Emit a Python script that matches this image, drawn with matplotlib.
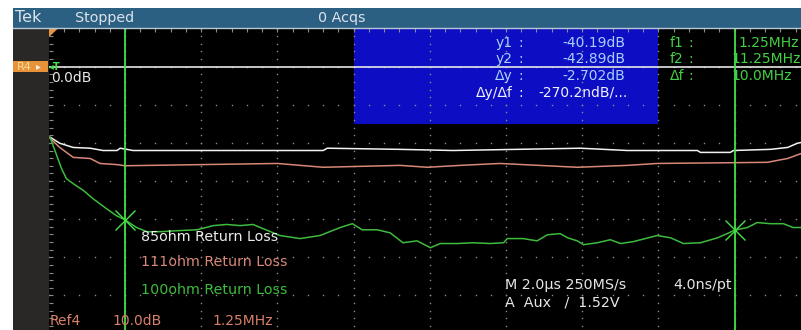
import matplotlib.pyplot as plt
from matplotlib.patches import Rectangle, Polygon
import numpy as np

# Trace data: frequency (MHz) and return loss (dB)
f_green = [0.02, 0.05, 0.13, 0.21, 0.29, 0.40, 0.57, 0.73, 0.95, 1.11, 1.25, 1.44, 1.61,
           1.83, 2.15, 2.43, 2.70, 2.92, 3.14, 3.35, 3.47, 3.79, 4.12, 4.45, 4.78, 4.98,
           5.14, 5.39, 5.60, 5.81, 6.04, 6.26, 6.42, 6.70, 6.96, 7.24, 7.46, 7.52, 7.78,
           8.01, 8.18, 8.39, 8.51, 8.67, 8.77, 9.00, 9.21, 9.38, 9.59, 9.98, 10.20, 10.41,
           10.69, 10.97, 11.13, 11.25, 11.46, 11.62, 11.84, 12.05, 12.21, 12.34, 12.50]
db_green = [-18.6, -19.8, -23.3, -26.8, -29.4, -30.7, -32.5, -34.7, -37.3, -39.1, -40.19,
            -42.2, -43.3, -43.3, -43.0, -42.8, -41.7, -41.4, -41.7, -41.4, -42.2, -44.3,
            -45.1, -44.3, -42.2, -41.2, -42.8, -42.8, -43.6, -46.2, -45.7, -47.5, -46.4,
            -46.4, -46.2, -46.4, -46.2, -45.1, -45.1, -45.7, -44.1, -43.8, -44.9, -45.7,
            -46.7, -46.2, -45.4, -46.4, -45.9, -44.3, -44.9, -46.4, -46.2, -44.9, -43.8,
            -42.89, -42.2, -40.9, -41.2, -41.2, -42.2, -42.2, -42.5]

f_white = [0.02, 0.18, 0.40, 0.68, 0.89, 1.12, 1.17, 1.28, 1.38, 4.50, 4.57, 5.76, 6.63,
           8.72, 9.49, 10.64, 10.69, 11.18, 11.23, 11.84, 12.12, 12.28, 12.34, 12.50]
db_white = [-18.5, -20.1, -21.2, -21.4, -22.0, -22.0, -21.4, -21.7, -22.0, -22.0, -21.4,
            -21.7, -22.0, -21.4, -22.0, -22.0, -22.5, -22.5, -22.0, -21.7, -21.2, -20.1,
            -19.9, -19.0]

f_salmon = [0.02, 0.18, 0.40, 0.68, 0.84, 1.12, 1.25, 3.75, 4.50, 5.76, 6.21, 6.75, 7.40,
            8.67, 9.49, 9.98, 11.79, 11.95, 12.12, 12.34, 12.50]
db_salmon = [-18.8, -21.2, -23.8, -24.1, -25.4, -25.7, -26.0, -25.4, -26.4, -25.9, -26.4,
             -25.9, -25.4, -26.4, -25.9, -25.4, -25.1, -24.6, -24.1, -22.8, -21.5]

cursor_f = [1.25, 11.25]
cursor_db = [-40.19, -42.89]

labels = ['85ohm Return Loss', '111ohm Return Loss', '100ohm Return Loss']
readout_names = ['y1', 'y2', '\u0394y', '\u0394y/\u0394f']
readout_vals = ['-40.19dB', '-42.89dB', '-2.702dB', '-270.2ndB/...']
freq_names = ['f1', 'f2', '\u0394f']
freq_vals = ['1.25MHz', '11.25MHz', '10.0MHz']

W, H = 801, 330
plt.rcParams['font.family'] = ['DejaVu Sans']
fig = plt.figure(figsize=(W / 100, H / 100), dpi=100, facecolor='white')


def fx(x):
    return x / W


def fy(y):
    return 1 - y / H


def frect(x0, y0, x1, y1, color, z=0):
    fig.add_artist(Rectangle((fx(x0), fy(y1)), fx(x1) - fx(x0), fy(y0) - fy(y1),
                             transform=fig.transFigure, color=color, zorder=z, lw=0))


# screen frame: header bar + left panel
frect(13, 8, 801, 28, '#2c6083')
frect(13, 28, 49, 330, '#2a2827')
fig.add_artist(plt.Line2D([fx(13), 1], [fy(28), fy(28)], transform=fig.transFigure,
                          color='#b8c8d4', lw=1.0))
fig.text(fx(15), fy(18), 'Tek', fontsize=11.5, color='#dde3ea', va='center')
fig.text(fx(75), fy(18), 'Stopped', fontsize=10.3, color='#dde3ea', va='center')
fig.text(fx(318), fy(18), '0 Acqs', fontsize=10.3, color='#dde3ea', va='center')

# graticule
ax = fig.add_axes([fx(48.8), fy(333.5), 762 / W, 305 / H])
ax.set_facecolor('black')
ax.set_xlim(0, 12.5)
ax.set_ylim(-70, 10)
ax.set_xticks([])
ax.set_yticks([])
for s in ax.spines.values():
    s.set_visible(False)

ax.add_patch(Rectangle((0.4, 0.6875), 0.4, 0.3125, transform=ax.transAxes,
                       color='#0d0dc4', lw=0, zorder=1))

dot = '#8a8a8a'
for xv in np.arange(1.25, 12.5, 1.25):
    yy = np.arange(-70, 10.01, 2)
    ax.plot(np.full_like(yy, xv), yy, ls='none', marker='s', ms=1.0, mew=0, color=dot, zorder=2)
for yv in np.arange(-60, 1, 10):
    xx = np.arange(0, 12.51, 0.25)
    ax.plot(xx, np.full_like(xx, yv), ls='none', marker='s', ms=1.0, mew=0, color=dot, zorder=2)
yy = np.arange(-70, 10.01, 2)
ax.plot(np.full_like(yy, 0.03), yy, ls='none', marker='_', ms=3, mew=0.8, color=dot, zorder=2)
xx = np.arange(0, 12.51, 0.25)
ax.plot(xx, np.full_like(xx, 9.6), ls='none', marker='|', ms=3, mew=0.8, color=dot, zorder=2)

# reference line
ax.axhline(0, color='#e6e6e6', lw=1.2, zorder=3)

ax.plot(f_white, db_white, color='#f2f2f2', lw=1.1, zorder=4)
ax.plot(f_salmon, db_salmon, color='#d88878', lw=1.1, zorder=4)
ax.plot(f_green, db_green, color='#3dbb3d', lw=1.1, zorder=4)

for c in cursor_f:
    ax.axvline(c, color='#44e044', lw=1.3, zorder=5)
ax.plot(cursor_f, cursor_db, ls='none', marker='x', ms=14, mew=1.0, color='#44e044', zorder=6)

# corner markers
fig.add_artist(Polygon([[fx(49), fy(28.5)], [fx(58), fy(28.5)], [fx(49), fy(37)]],
                       closed=True, transform=fig.transFigure, color='#e4953e', lw=0))
frect(13, 61, 48, 72, '#e8923a', z=2)
fig.text(fx(17), fy(66.5), 'R4', fontsize=8, color='#f8e0a0', va='center', zorder=3)
fig.text(fx(36), fy(66.5), '\u25b8', fontsize=7, color='#f8f0e0', va='center', zorder=3)
fig.text(fx(49), fy(66.5), '\u25c2T', fontsize=7, color='#44e044', va='center',
         fontweight='bold')
fig.text(fx(51), fy(78), '0.0dB', fontsize=10, color='#e6e6e6', va='center')

# cursor readout
rows = [43, 59, 76, 93]
for i, (n, v) in enumerate(zip(readout_names, readout_vals)):
    col = '#a8d0ff' if i < 3 else '#eef2ff'
    fig.text(fx(513), fy(rows[i]), n, fontsize=10, color=col, va='center', ha='right')
    fig.text(fx(518), fy(rows[i]), ':', fontsize=10, color=col, va='center')
    if i < 3:
        fig.text(fx(625), fy(rows[i]), v, fontsize=10, color=col, va='center', ha='right')
    else:
        fig.text(fx(538), fy(rows[i]), v, fontsize=10, color=col, va='center')
fx_vals = [738, 731, 731]
for i, (n, v) in enumerate(zip(freq_names, freq_vals)):
    fig.text(fx(670), fy(rows[i]), n, fontsize=10, color='#44d044', va='center')
    fig.text(fx(688), fy(rows[i]), ':', fontsize=10, color='#44d044', va='center')
    fig.text(fx(fx_vals[i]), fy(rows[i]), v, fontsize=10, color='#44d044', va='center')

# trace labels
lab_cols = ['#ececec', '#d88878', '#3dbb3d']
lab_y = [237, 262, 290]
for t, c, yv in zip(labels, lab_cols, lab_y):
    fig.text(fx(141), fy(yv), t, fontsize=10.3, color=c, va='center')

fig.text(fx(50), fy(321), 'Ref4', fontsize=10, color='#d8806a', va='center')
fig.text(fx(112), fy(321), '10.0dB', fontsize=10, color='#d8806a', va='center')
fig.text(fx(212), fy(321), '1.25MHz', fontsize=10, color='#d8806a', va='center')

fig.text(fx(505), fy(285), 'M 2.0\u03bcs 250MS/s', fontsize=10.3, color='#e6e6e6', va='center')
fig.text(fx(673), fy(285), '4.0ns/pt', fontsize=10.3, color='#e6e6e6', va='center')
fig.text(fx(505), fy(303), 'A  Aux   /  1.52V', fontsize=10.3, color='#e6e6e6', va='center')

fig.savefig('out.png', dpi=100, facecolor='white')
